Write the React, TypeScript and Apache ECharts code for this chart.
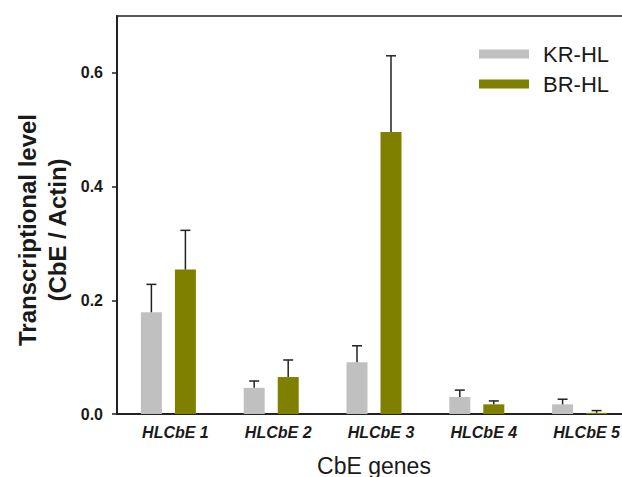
import React, { useEffect, useRef } from "react";
import * as echarts from "echarts";

const categories = ["HLCbE 1", "HLCbE 2", "HLCbE 3", "HLCbE 4", "HLCbE 5"];
const krValues = [0.179, 0.046, 0.091, 0.030, 0.017];
const krErrTop = [0.228, 0.058, 0.120, 0.042, 0.026];
const brValues = [0.254, 0.065, 0.496, 0.017, 0.002];
const brErrTop = [0.323, 0.095, 0.630, 0.023, 0.006];
const yTicks = [0, 0.2, 0.4, 0.6];

const FONT = "'Liberation Sans', Arial, sans-serif";
const TXT = "#1a1a1a";

function errSeries(name: string, vals: number[], errs: number[], offset: number) {
  return {
    name: name + "-err",
    type: "custom",
    z: 5,
    silent: true,
    data: vals.map((v, i) => [i, v, errs[i]]),
    renderItem: (params: any, api: any) => {
      const idx = api.value(0);
      const v = api.value(1);
      const e = api.value(2);
      const p0 = api.coord([idx, v]);
      const p1 = api.coord([idx, e]);
      const x = p0[0] + offset;
      const st = { stroke: "#222", lineWidth: 1.5 };
      return {
        type: "group",
        children: [
          { type: "line", shape: { x1: x, y1: p0[1], x2: x, y2: p1[1] }, style: st },
          { type: "line", shape: { x1: x - 5, y1: p1[1], x2: x + 5, y2: p1[1] }, style: st },
        ],
      };
    },
  };
}

export default function App() {
  const ref = useRef<HTMLDivElement>(null);
  useEffect(() => {
    if (!ref.current) return;
    const chart = echarts.init(ref.current, null, { renderer: "svg" });
    chart.setOption({
      animation: false,
      backgroundColor: "#ffffff",
      grid: {
        left: 117,
        top: 16,
        width: 514,
        bottom: 63,
        show: true,
        borderColor: "#222",
        borderWidth: 1.5,
        backgroundColor: "transparent",
        containLabel: false,
        outerBoundsMode: "none",
      },
      legend: {
        orient: "vertical",
        left: 474,
        top: 36,
        itemWidth: 50,
        itemHeight: 9,
        itemGap: 4,
        icon: "rect",
        data: ["KR-HL", "BR-HL"],
        textStyle: { fontFamily: FONT, fontSize: 22, color: TXT, padding: [0, 0, 0, 9], lineHeight: 26 },
      },
      graphic: [
        {
          type: "text",
          x: 42,
          y: 230,
          rotation: Math.PI / 2,
          style: {
            text: "Transcriptional level\n(CbE / Actin)",
            fontFamily: FONT,
            fontSize: 24,
            fontWeight: "bold",
            fill: TXT,
            align: "center",
            verticalAlign: "middle",
            lineHeight: 30,
          },
        },
      ],
      xAxis: {
        type: "category",
        data: categories,
        name: "CbE genes",
        nameLocation: "middle",
        nameGap: 40,
        nameTextStyle: { fontFamily: FONT, fontSize: 23, color: TXT },
        axisLine: { lineStyle: { color: "#222", width: 2 } },
        axisTick: { show: false },
        axisLabel: {
          fontFamily: FONT,
          fontSize: 16,
          fontWeight: "bold",
          fontStyle: "italic",
          color: TXT,
          margin: 10,
          padding: [0, 0, 0, 14],
        },
      },
      yAxis: {
        type: "value",
        min: 0,
        max: 0.7,
        interval: 0.2,
        splitLine: { show: false },
        axisLine: { show: true, lineStyle: { color: "#222", width: 2 } },
        axisTick: {
          show: true,
          length: 5,
          lineStyle: { color: "#222", width: 1.5 },
          customValues: yTicks,
        },
        axisLabel: {
          fontFamily: FONT,
          fontSize: 16,
          fontWeight: "bold",
          color: TXT,
          margin: 14,
          customValues: yTicks,
          formatter: (v: number) => v.toFixed(1),
        },
      },
      series: [
        {
          name: "KR-HL",
          type: "bar",
          data: krValues,
          barWidth: 21,
          barGap: "62%",
          itemStyle: { color: "#c0c0c0" },
        },
        {
          name: "BR-HL",
          type: "bar",
          data: brValues,
          barWidth: 21,
          barGap: "62%",
          itemStyle: { color: "#808000" },
        },
        errSeries("KR-HL", krValues, krErrTop, -17),
        errSeries("BR-HL", brValues, brErrTop, 17),
      ],
    });
    return () => chart.dispose();
  }, []);
  return <div ref={ref} style={{ width: 622, height: 477, position: "absolute", left: 0, top: 0 }} />;
}
